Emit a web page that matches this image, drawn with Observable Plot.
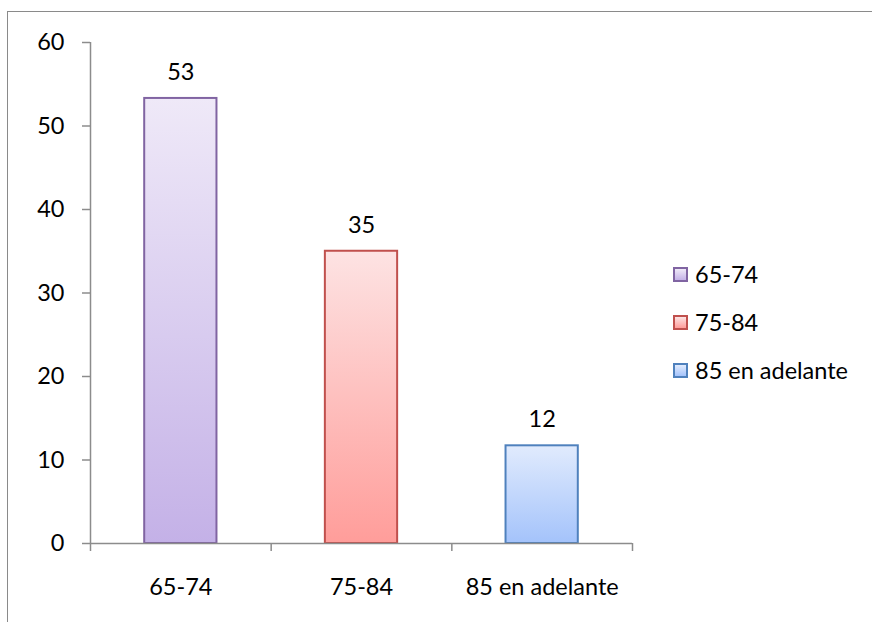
<!DOCTYPE html>
<html>
<head>
<meta charset="utf-8">
<script src="https://cdn.jsdelivr.net/npm/d3@7"></script>
<script src="https://cdn.jsdelivr.net/npm/@observablehq/plot@0.6"></script>
<style>
  html, body { margin: 0; padding: 0; background: #fff; }
  #wrap { position: relative; width: 872px; height: 622px; overflow: hidden; font-family: Lato, sans-serif; }
  #wrap svg { position: absolute; left: 0; top: 0; }
  #border { position: absolute; left: 7px; top: 11px; width: 1000px; height: 1000px;
            border: 1.5px solid #8a8a8a; box-sizing: border-box; pointer-events: none; }
  #legend { position: absolute; left: 673px; top: 0; }
  .item { position: absolute; left: 0; display: flex; align-items: center; white-space: nowrap;
          font-size: 23.5px; color: #000; transform: translateY(-50%); }
  .swatch { width: 11px; height: 11px; border: 2px solid; margin-right: 7px; }
</style>
</head>
<body>
<div id="wrap"><div id="border"></div></div>
<script>
// Age groups and their shares
const categories = ["65-74", "75-84", "85 en adelante"];
const values = [53.3, 35.0, 11.7];
const yTicks = [0, 10, 20, 30, 40, 50, 60];

// Bar palette: gradient top, gradient bottom, outline
const palette = [
  { top: "#efe9f8", bottom: "#c4b1e7", stroke: "#8064a2" },
  { top: "#fde3e3", bottom: "#ff9d9a", stroke: "#c0504d" },
  { top: "#e1ebfd", bottom: "#a4c3fb", stroke: "#4f81bd" }
];

const data = categories.map((c, i) => ({ i, category: c, value: values[i] }));
const fmt = d3.format(".0f");
const axisColor = "#8c8c8c";

const chart = Plot.plot({
  width: 872,
  height: 622,
  marginLeft: 90,
  marginRight: 240,
  marginTop: 42,
  marginBottom: 79,
  style: { fontFamily: "Lato, sans-serif", fontSize: "23.5px", color: "#000", background: "transparent" },
  x: { domain: [0, categories.length], axis: null },
  y: { domain: [0, 60], axis: null },
  marks: [
    // category boundary ticks below the baseline
    Plot.axisX({ ticks: d3.range(categories.length + 1), tickFormat: () => "", tickSize: 8,
                 stroke: axisColor, strokeWidth: 1.5, anchor: "bottom", label: null }),
    Plot.axisY({ ticks: yTicks, tickSize: 8, tickPadding: 18, stroke: axisColor, strokeWidth: 1.5,
                 fill: "#000", anchor: "left", label: null }),
    Plot.ruleX([0], { y1: 0, y2: 60, stroke: axisColor, strokeWidth: 1.5 }),
    Plot.rect(data, {
      x1: d => d.i + 0.3,
      x2: d => d.i + 0.7,
      y1: 0,
      y2: "value",
      fill: d => `url(#bar-grad-${d.i})`,
      stroke: d => palette[d.i].stroke,
      strokeWidth: 2,
      style: "filter: drop-shadow(1.5px 1.5px 1.2px rgba(0,0,0,0.28))"
    }),
    Plot.ruleY([0], { x1: 0, x2: categories.length, stroke: axisColor, strokeWidth: 1.5 }),
    Plot.text(data, { x: d => d.i + 0.5, y: "value", text: d => fmt(d.value), dy: -26,
                      lineAnchor: "middle", fill: "#000" }),
    Plot.text(data, { x: d => d.i + 0.5, y: 0, text: "category", dy: 44,
                      lineAnchor: "middle", fill: "#000" })
  ]
});

// vertical gradients used by the bars
const defs = d3.select(chart).insert("defs", ":first-child");
palette.forEach((p, i) => {
  const g = defs.append("linearGradient").attr("id", `bar-grad-${i}`)
    .attr("x1", 0).attr("y1", 0).attr("x2", 0).attr("y2", 1);
  g.append("stop").attr("offset", "0%").attr("stop-color", p.top);
  g.append("stop").attr("offset", "100%").attr("stop-color", p.bottom);
});

const wrap = document.getElementById("wrap");
wrap.insertBefore(chart, wrap.firstChild);

// legend on the right
const legend = d3.select(wrap).append("div").attr("id", "legend");
const rowY = [274, 322, 370];
categories.forEach((c, i) => {
  const item = legend.append("div").attr("class", "item").style("top", rowY[i] + "px");
  item.append("div").attr("class", "swatch")
    .style("border-color", palette[i].stroke)
    .style("background", `linear-gradient(${palette[i].top}, ${palette[i].bottom})`);
  item.append("span").text(c);
});
</script>
</body>
</html>
